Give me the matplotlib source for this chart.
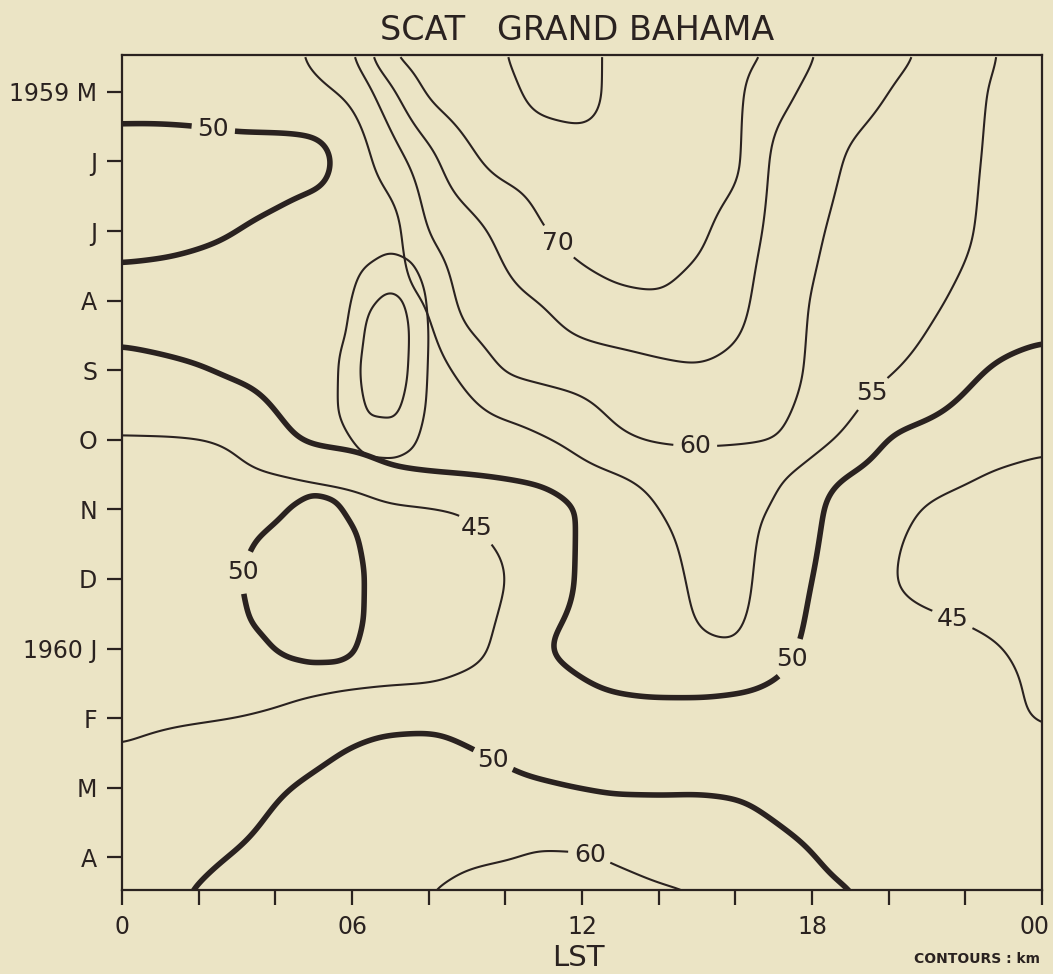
import numpy as np
import matplotlib
matplotlib.use("Agg")
import matplotlib.pyplot as plt
import matplotlib.transforms as mtransforms

# ---------------- data ----------------
hours = np.arange(0, 25)                       # LST hour
months = np.array([-0.5, 0, 1, 2, 3, 4, 5, 5.5, 6, 7, 8, 8.5, 9, 10, 11, 11.5])  # 0 = May 1959

r_m05 = [52, 52.5, 53, 53.5, 54.3, 55.3, 59.3, 70, 72, 73.5, 74.9, 76.5, 76.5, 73.5, 73, 72, 71, 69.5, 65.1, 63, 61.5, 59.2, 57, 54.6, 53]
r_00 = [52, 52.3, 52.7, 53.2, 53.7, 54.2, 56, 64, 70.7, 72.5, 74, 76.2, 76.5, 73.5, 73.2, 72, 70.8, 67, 63.8, 62, 60, 58, 56, 54.3, 53]
r_01 = [47.5, 47.3, 47.5, 48, 48, 48.5, 52.4, 57.4, 63.4, 68.8, 71.5, 72, 72.8, 73, 72.8, 72, 71, 64, 62.1, 59.5, 58.3, 57.3, 55.5, 54.3, 53]
r_02 = [48.5, 48.8, 49.3, 50, 51, 52.5, 52.9, 53.3, 60.3, 63.5, 66.3, 69.9, 71.3, 71.5, 71.3, 70.8, 67.8, 63.8, 60.6, 59, 58, 56.8, 55.3, 54, 53]
r_03 = [51.5, 51.5, 51.7, 52, 52.5, 53, 53.5, 54.0, 55.1, 62, 63.8, 65.3, 68.2, 69.4, 69.7, 68.5, 66.5, 62.5, 59.8, 58.7, 57.5, 55.8, 54.2, 53, 52]
r_04 = [48.8, 49.3, 49.8, 50.6, 51.3, 52, 52.5, 53, 53.5, 56.3, 60.3, 61.2, 62, 63, 64, 64.6, 63.8, 62.3, 59.3, 57.4, 55.4, 53.5, 51, 49.3, 48.5]
r_05 = [44.8, 44.8, 44.9, 45.5, 48.7, 50.6, 51.0, 51.5, 51.7, 52.2, 53.0, 54.6, 56.7, 59.3, 60.5, 60.8, 60.6, 60.1, 56.6, 53.8, 49.8, 48.5, 47.5, 46.5, 45.7]
r_055 = [44.3, 44.2, 44.1, 44.3, 44.9, 46, 47.2, 49.3, 49.9, 50.2, 50.6, 51.3, 53.5, 55, 56.3, 57, 56.8, 55.8, 53.2, 49.9, 47.8, 46.3, 45.4, 44.6, 44.3]
r_06 = [44, 43.8, 43.5, 43, 42.5, 42.5, 43, 44.2, 44.6, 45.2, 46.5, 48.2, 50.4, 53, 55, 56, 55.9, 54.8, 51.5, 47, 46, 44.8, 44.2, 43.8, 43.8]
r_07 = [43.8, 43.5, 43, 42.5, 42, 42, 42.5, 43, 43.5, 44.2, 44.9, 47.5, 50.6, 52.7, 53.8, 55.5, 56.3, 52.8, 50, 47.5, 45.3, 44, 43.4, 43.2, 43.3]
r_08 = [44, 43.8, 43.6, 43.3, 43, 42.8, 43.3, 43.7, 44.1, 44.3, 45.8, 49.7, 51.2, 52.5, 53.6, 54.5, 54.7, 51.5, 49.2, 48, 47.2, 46.5, 45.7, 45, 44.3]
r_085 = [44.2, 44.1, 44, 43.9, 43.9, 44.0, 44.3, 44.6, 44.8, 45.6, 46.8, 48.3, 49.7, 51, 51.5, 51.6, 51.2, 49.8, 48.6, 47.8, 47.1, 46.4, 45.8, 45.3, 44.6]
r_09 = [44.5, 44.7, 44.8, 45, 45.5, 46.8, 48.3, 49, 49.1, 48.6, 48, 47.5, 47.6, 48, 48.3, 48.3, 48, 47.8, 47.5, 47.2, 46.8, 46.3, 45.8, 45.3, 44.9]
r_10 = [46.2, 46.6, 47.7, 48.5, 49.6, 50.6, 51.5, 52, 52.2, 51.6, 51, 50.4, 49.9, 49.6, 49.6, 49.7, 49.6, 49.1, 48.6, 48.2, 47.8, 47.4, 47, 46.6, 46.2]
r_11 = [48, 48.6, 49.4, 50.2, 51, 51.8, 52.4, 53, 53.5, 54, 54.3, 54.5, 54.5, 54.3, 54, 53.2, 52.2, 51, 50.1, 49.2, 48.7, 48.3, 48, 47.8, 47.6]
r_115 = [48.8, 49.5, 50.2, 51.2, 52, 52.6, 53.2, 53.7, 54, 54.4, 54.6, 54.7, 54.7, 54.6, 54.3, 53.7, 52.9, 51.8, 50.8, 50.1, 49.5, 49, 48.7, 48.5, 48.3]

# isolated cell near 06 LST, Aug-Oct (55 / 60 rings)
ring_hours = [5.0, 5.5, 6.0, 6.5, 7.0, 7.5, 8.0, 8.5]
ring_months = [2.0, 2.5, 3.0, 3.5, 4.0, 4.5, 5.0, 5.5]
ring_vals = [
    [52, 52.5, 53, 53.5, 53.8, 53.5, 53, 52.5],
    [52.5, 53, 54, 55.2, 56, 55.3, 53.5, 53],
    [52.8, 53.8, 55, 59.3, 61, 59, 54.5, 53.5],
    [53, 54, 55.8, 62, 62.5, 60, 54.8, 54],
    [53, 54.3, 57.5, 62.5, 62.5, 59.7, 54.7, 54],
    [53, 54.5, 56.8, 61, 61.2, 58.5, 54.5, 53.8],
    [52, 53.5, 55, 57, 57.3, 56, 53.5, 52.5],
    [50.5, 51, 52, 52.8, 52.8, 52.5, 51.8, 51],
]

# isolated 50 km cell, Nov-Jan, 03-06 LST
loop_hours = [2.5, 3.0, 3.5, 4.0, 4.5, 5.0, 5.5, 6.0, 6.5, 7.0]
loop_months = [5.5, 6.0, 6.5, 7.0, 7.5, 8.0, 8.5]
loop_vals = [
    [46, 46.5, 47, 47.5, 48, 48.5, 48.3, 47.8, 47, 46.5],
    [46.5, 47, 48, 49.2, 50.3, 50.8, 50.5, 49.3, 48, 47],
    [47, 48.5, 50.2, 51.2, 51.8, 52, 51.7, 50.7, 48.8, 47.5],
    [47.5, 49.5, 51.2, 52, 52.4, 52.5, 52.2, 51.2, 49.3, 47.8],
    [47, 48.8, 50.8, 51.8, 52.2, 52.3, 52, 51, 49.3, 47.5],
    [46, 47, 48.5, 50.1, 50.8, 51, 50.9, 50.3, 48.5, 47],
    [45.5, 46, 46.5, 47, 47.5, 48, 48, 47.5, 46.5, 46],
]

# 60 km cell, Mar-Apr 1960, 08-15 LST
arc_hours = [7, 8, 9, 10, 11, 12, 13, 14, 15, 16]
arc_months = [10.0, 10.5, 11.0, 11.5]
arc_vals = [
    [55, 55.5, 56, 56.5, 57, 57, 56.5, 56, 55.5, 55],
    [55.5, 56.5, 57.5, 58.3, 58.8, 58.8, 58.5, 57.8, 57, 56],
    [56, 57.8, 59.2, 59.8, 60.3, 60.2, 59.5, 58.5, 57.5, 56.5],
    [57, 59.8, 61.5, 62.3, 62.5, 62.4, 61.8, 60.8, 59.9, 58],
]

month_labels = ['1959 M', 'J', 'J', 'A', 'S', 'O', 'N', 'D', '1960 J', 'F', 'M', 'A']
hour_ticks = [0, 6, 12, 18, 24]
hour_labels = ['0', '06', '12', '18', '00']
thin_levels = [45, 55, 60, 65, 70, 75]
thick_level = 50

# ---------------- helpers ----------------
def pchip(x, y, xn):
    x = np.asarray(x, float); y = np.asarray(y, float); xn = np.asarray(xn, float)
    h = np.diff(x); d = np.diff(y) / h
    n = len(x)
    m = np.zeros(n)
    for k in range(1, n - 1):
        if d[k - 1] * d[k] > 0:
            w1 = 2 * h[k] + h[k - 1]; w2 = h[k] + 2 * h[k - 1]
            m[k] = (w1 + w2) / (w1 / d[k - 1] + w2 / d[k])
    def edge(h0, h1, d0, d1):
        mm = ((2 * h0 + h1) * d0 - h0 * d1) / (h0 + h1)
        if np.sign(mm) != np.sign(d0):
            mm = 0.0
        elif np.sign(d0) != np.sign(d1) and abs(mm) > abs(3 * d0):
            mm = 3 * d0
        return mm
    if n > 2:
        m[0] = edge(h[0], h[1], d[0], d[1])
        m[-1] = edge(h[-1], h[-2], d[-1], d[-2])
    else:
        m[:] = d[0]
    idx = np.clip(np.searchsorted(x, xn) - 1, 0, n - 2)
    t = (xn - x[idx]) / h[idx]
    h00 = 2 * t**3 - 3 * t**2 + 1
    h10 = t**3 - 2 * t**2 + t
    h01 = -2 * t**3 + 3 * t**2
    h11 = t**3 - t**2
    return h00 * y[idx] + h10 * h[idx] * m[idx] + h01 * y[idx + 1] + h11 * h[idx] * m[idx + 1]

def blur1d(a, sigma_cells, axis):
    if sigma_cells <= 0:
        return a
    r = int(np.ceil(3 * sigma_cells))
    k = np.exp(-0.5 * (np.arange(-r, r + 1) / sigma_cells) ** 2)
    k /= k.sum()
    pad = [(0, 0)] * a.ndim
    pad[axis] = (r, r)
    ap = np.pad(a, pad, mode='edge')
    return np.apply_along_axis(lambda v: np.convolve(v, k, mode='valid'), axis, ap)

def smooth_grid(xs, ys, Z, step_x=0.05, step_y=0.02, sig_x=0.0, sig_y=0.0):
    xs = np.asarray(xs, float); ys = np.asarray(ys, float); Z = np.asarray(Z, float)
    xn = np.linspace(xs[0], xs[-1], int(round((xs[-1] - xs[0]) / step_x)) + 1)
    yn = np.linspace(ys[0], ys[-1], int(round((ys[-1] - ys[0]) / step_y)) + 1)
    rows = np.array([pchip(xs, Z[i], xn) for i in range(len(ys))])
    out = np.array([pchip(ys, rows[:, j], yn) for j in range(len(xn))]).T
    out = blur1d(out, sig_x / step_x, axis=1)
    out = blur1d(out, sig_y / step_y, axis=0)
    XX, YY = np.meshgrid(xn, yn)
    return XX, YY, out

Z_main = np.array([r_m05, r_00, r_01, r_02, r_03, r_04, r_05, r_055, r_06, r_07,
                   r_08, r_085, r_09, r_10, r_11, r_115])

# ---------------- figure ----------------
ink = '#2a2220'
paper = '#ebe4c5'
plt.rcParams['font.family'] = ['DejaVu Sans']

fig = plt.figure(figsize=(10.53, 9.74), dpi=100, facecolor=paper)
ax = fig.add_axes([0.1159, 0.0862, 0.8737, 0.8573])
ax.set_facecolor(paper)
ax.set_xlim(0, 24)
ax.set_ylim(11.47, -0.53)

THIN, THICK = 1.5, 4.0
X, Y, Zs = smooth_grid(hours, months, Z_main, 0.05, 0.02, 0.28, 0.14)
cs_main = {}
for lev in thin_levels:
    cs_main[lev] = ax.contour(X, Y, Zs, levels=[lev], colors=ink, linewidths=THIN)
cs_main[thick_level] = ax.contour(X, Y, Zs, levels=[thick_level], colors=ink, linewidths=THICK)

Xr, Yr, Zr = smooth_grid(ring_hours, ring_months, ring_vals, 0.02, 0.02, 0.1, 0.1)
ax.contour(Xr, Yr, Zr, levels=[55, 60], colors=ink, linewidths=THIN)

Xl, Yl, Zl = smooth_grid(loop_hours, loop_months, loop_vals, 0.02, 0.02, 0.12, 0.1)
cs_loop = ax.contour(Xl, Yl, Zl, levels=[50], colors=ink, linewidths=THICK)

Xa, Ya, Za = smooth_grid(arc_hours, arc_months, arc_vals, 0.02, 0.02, 0.2, 0.08)
cs_arc = ax.contour(Xa, Ya, Za, levels=[60], colors=ink, linewidths=THIN)

lab_kw = dict(inline=True, fmt='%d', fontsize=18, colors=ink, inline_spacing=6)
label_spots = [
    (cs_main[50], [(2.4, 0.45), (17.3, 8.1), (9.73, 9.55)]),
    (cs_main[45], [(9.6, 6.08), (21.7, 7.53)]),
    (cs_main[55], [(19.6, 4.35)]),
    (cs_main[60], [(14.95, 5.17)]),
    (cs_main[70], [(11.3, 2.2)]),
    (cs_loop, [(3.15, 6.9)]),
    (cs_arc, [(12.2, 10.97)]),
]
for cs, spots in label_spots:
    txts = ax.clabel(cs, manual=spots, **lab_kw)
    for t in txts:
        t.set_rotation(0)

# axes styling
for s in ax.spines.values():
    s.set_color(ink)
    s.set_linewidth(1.6)
ax.set_yticks(np.arange(len(month_labels)))
ax.set_yticklabels(month_labels)
ax.set_xticks(hour_ticks)
ax.set_xticklabels(hour_labels)
ax.set_xticks(np.arange(0, 25, 2), minor=True)
ax.tick_params(axis='both', which='both', direction='out', length=11, width=1.6,
               color=ink, labelcolor=ink, labelsize=17, pad=7)
# keep the last hour label inside the page, as in the original
last = ax.get_xticklabels()[-1]
last.set_transform(last.get_transform() +
                   mtransforms.ScaledTranslation(-0.08, 0, fig.dpi_scale_trans))

fig.text(0.548, 0.969, 'SCAT   GRAND BAHAMA', ha='center', va='center', fontsize=24, color=ink)
fig.text(0.549, 0.016, 'LST', ha='center', va='center', fontsize=21, color=ink)
fig.text(0.988, 0.015, 'CONTOURS : km', ha='right', va='center', fontsize=10,
         fontweight='bold', color=ink)

fig.savefig('out.png', dpi=100, facecolor=paper)
